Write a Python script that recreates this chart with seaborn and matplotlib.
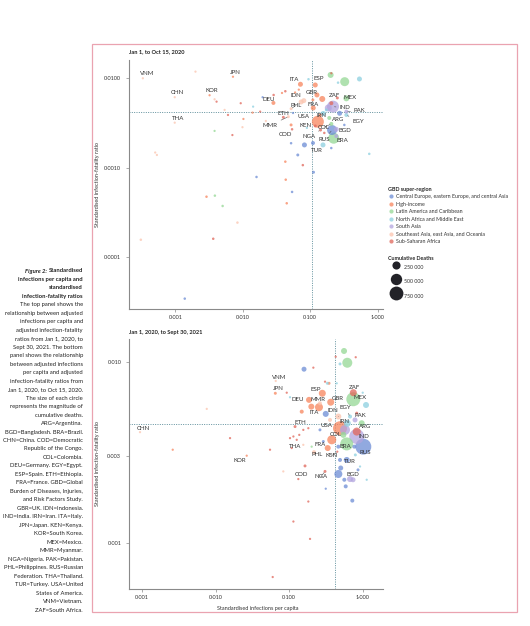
import numpy as np
import pandas as pd
import matplotlib
matplotlib.use("Agg")
import matplotlib.pyplot as plt
import seaborn as sns
from matplotlib.lines import Line2D
from matplotlib.patches import Rectangle

sns.set_theme(style="ticks")
plt.rcParams["font.family"] = ["Lato", "DejaVu Sans"]

# ---- data -----------------------------------------------------------------
REGION_NAMES = {
    "CE": "Central Europe, eastern Europe, and central Asia",
    "HI": "High-income",
    "LA": "Latin America and Caribbean",
    "NA": "North Africa and Middle East",
    "SA": "South Asia",
    "SE": "Southeast Asia, east Asia, and Oceania",
    "SS": "Sub-Saharan Africa",
}
PALETTE = {
    "CE": "#6c8cd5", "HI": "#f7845c", "LA": "#95d895", "NA": "#8cd0e0",
    "SA": "#b2a4de", "SE": "#fbc4ae", "SS": "#e0665a",
}

# top panel: Jan 1 to Oct 15, 2020 (labelled countries)
top_codes = ["VNM", "JPN", "CHN", "KOR", "THA", "ITA", "ESP", "GBR", "IDN", "DEU",
             "ZAF", "MEX", "FRA", "PHL", "IND", "PAK", "ETH", "USA", "IRN", "ARG",
             "EGY", "MMR", "KEN", "COL", "COD", "BGD", "NGA", "RUS", "BRA", "TUR"]
top_region = ["SE", "HI", "SE", "HI", "SE", "HI", "HI", "HI", "SE", "HI",
              "SS", "LA", "HI", "SE", "SA", "SA", "SS", "HI", "NA", "LA",
              "NA", "SE", "SS", "LA", "SS", "SA", "SS", "CE", "LA", "CE"]
top_inf = [0.00033, 0.00716, 0.00098, 0.00322, 0.00098, 0.0717, 0.119, 0.126, 0.0805, 0.0285,
           0.206, 0.344, 0.111, 0.0521, 0.218, 0.344, 0.040, 0.130, 0.156, 0.192,
           0.344, 0.0474, 0.119, 0.206, 0.0539, 0.244, 0.1425, 0.211, 0.223, 0.110]
top_ifr = [0.0100, 0.0104, 0.00614, 0.00646, 0.00319, 0.00857, 0.00841, 0.00651, 0.00562, 0.0053,
           0.00526, 0.00597, 0.00466, 0.00457, 0.00482, 0.00424, 0.00366, 0.00327, 0.00404, 0.0036,
           0.00389, 0.00372, 0.00293, 0.00309, 0.00269, 0.00269, 0.00264, 0.00264, 0.00214, 0.00189]
top_deaths = [5, 5, 5, 5, 5, 84, 84, 84, 84, 48,
              48, 128, 84, 20, 558, 48, 20, 558, 84, 48,
              48, 20, 20, 48, 10, 84, 20, 383, 467, 48]  # thousands

# top panel: other locations
top_oth_region = ["SE", "LA", "LA", "NA", "SS", "NA", "NA", "SS", "SS", "HI",
                  "HI", "CE", "SE", "SS", "SE", "SS", "NA", "SS", "HI", "HI",
                  "SS", "HI", "SE", "LA", "SS", "SE", "SE", "CE", "CE", "CE",
                  "NA", "CE", "NA", "SS", "HI", "CE", "CE", "HI", "CE", "HI",
                  "LA", "LA", "HI", "SE", "SE", "SS", "CE", "CE", "SA", "NA",
                  "HI", "SE", "HI", "HI", "HI", "SE", "SS", "NA", "CE", "SA",
                  "CE", "SS"]
top_oth_inf = [0.00199, 0.201, 0.325, 0.538, 0.206, 0.0944, 0.259, 0.0428, 0.0287, 0.0382,
               0.0597, 0.0197, 0.00382, 0.00409, 0.00538, 0.00933, 0.01425, 0.01812, 0.01396, 0.01023,
               0.00604, 0.0521, 0.0099, 0.00382, 0.00702, 0.000503, 0.000533, 0.0521, 0.0822, 0.0655,
               0.155, 0.2056, 0.752, 0.0778, 0.0428, 0.016, 0.112, 0.0434, 0.0539, 0.0029,
               0.00386, 0.00503, 0.0449, 0.00834, 0.000308, 0.00365, 0.00138, 0.2735, 0.1857, 0.1734,
               0.141, 0.0734, 0.1097, 0.151, 0.0678, 0.022, 0.162, 0.0893, 0.321, 0.244,
               0.0557, 0.253]
top_oth_ifr = [0.01186, 0.01089, 0.00916, 0.00982, 0.01138, 0.00975, 0.00893, 0.00716, 0.0065, 0.00685,
               0.00694, 0.00614, 0.00582, 0.00548, 0.00443, 0.00526, 0.00482, 0.00424, 0.00413, 0.00351,
               0.00389, 0.00301, 0.00284, 0.00258, 0.00232, 0.00148, 0.00139, 0.00188, 0.0018, 0.00139,
               0.0018, 0.00166, 0.00143, 0.00107, 0.00117, 0.000789, 0.000891, 0.000736, 0.000537, 0.000475,
               0.000488, 0.000374, 0.000401, 0.000244, 0.000157, 0.000161, 0.0000345, 0.00406, 0.00466, 0.00443,
               0.00389, 0.00543, 0.00573, 0.00587, 0.00746, 0.00333, 0.00245, 0.00279, 0.00301, 0.00226,
               0.00409, 0.00603]
top_oth_deaths = [5, 128, 308, 84, 5, 10, 10, 10, 10, 5,
                  5, 5, 5, 5, 5, 5, 5, 5, 5, 5,
                  5, 20, 5, 5, 5, 5, 5, 10, 84, 20,
                  84, 10, 10, 10, 10, 10, 20, 10, 10, 10,
                  10, 10, 10, 10, 10, 10, 10, 84, 180, 20,
                  20, 84, 20, 128, 5, 5, 10, 5, 10, 48,
                  5, 20]

# bottom panel: Jan 1, 2020 to Sept 30, 2021 (labelled countries)
bot_codes = ["VNM", "JPN", "ESP", "DEU", "MMR", "GBR", "ZAF", "MEX", "EGY", "ITA",
             "IDN", "PAK", "ETH", "IRN", "USA", "ARG", "COL", "IND", "THA", "FRA",
             "BRA", "RUS", "PHL", "KEN", "TUR", "KOR", "CHN", "COD", "NGA", "BGD"]
bot_region = ["SE", "HI", "HI", "HI", "SE", "HI", "SS", "LA", "NA", "HI",
              "SE", "SA", "SS", "NA", "HI", "LA", "LA", "SA", "SE", "HI",
              "LA", "CE", "SE", "SS", "CE", "HI", "SE", "SS", "SS", "SA"]
bot_inf = [0.0655, 0.0647, 0.282, 0.186, 0.262, 0.367, 0.745, 0.745, 0.672, 0.254,
           0.466, 0.786, 0.120, 0.617, 0.491, 0.969, 0.545, 0.829, 0.1555, 0.334,
           0.606, 1.019, 0.2175, 0.451, 0.606, 0.0264, 0.000933, 0.133, 0.307, 0.672]
bot_ifr = [0.00785, 0.00671, 0.00671, 0.00617, 0.00591, 0.00599, 0.00676, 0.00622, 0.00499, 0.00562,
           0.00499, 0.00478, 0.00439, 0.00458, 0.0043, 0.00458, 0.00395, 0.00387, 0.00348, 0.00334,
           0.00352, 0.0034, 0.00317, 0.00319, 0.00287, 0.00303, 0.00409, 0.00225, 0.00248, 0.00225]
bot_deaths = [5, 20, 180, 128, 48, 180, 180, 765, 48, 240,
              128, 84, 20, 180, 765, 128, 128, 881, 5, 128,
              658, 1136, 48, 5, 128, 5, 5, 5, 20, 128]

# bottom panel: other locations
bot_oth_region = ["LA", "LA", "SS", "SS", "NA", "CE", "SS", "SS", "HI", "NA",
                  "NA", "NA", "NA", "SS", "SE", "HI", "CE", "SE", "SS", "CE",
                  "SS", "SS", "SS", "SS", "SS", "SS", "SS", "SS", "HI", "SS",
                  "LA", "CE", "HI", "CE", "CE", "SS", "SS", "SE", "CE", "CE",
                  "CE", "CE", "CE", "CE", "CE", "NA", "NA", "SS", "SS", "SS",
                  "SS", "NA", "CE", "SA", "HI", "NA", "SA"]
bot_oth_inf = [0.557, 0.617, 0.803, 0.429, 0.491, 0.159, 0.213, 0.307, 0.348, 0.443,
               1.0, 1.109, 0.1025, 0.0925, 0.00755, 0.148, 0.314, 0.359, 0.829, 0.262,
               0.182, 0.1555, 0.137, 0.114, 0.1025, 0.108, 0.1265, 0.01566, 0.0026, 0.0548,
               0.202, 0.291, 0.379, 0.466, 0.769, 0.829, 0.164, 0.0831, 0.491, 0.502,
               0.466, 0.562, 0.587, 0.722, 0.314, 0.919, 1.133, 0.182, 0.114, 0.192,
               0.0596, 0.794, 0.863, 0.738, 0.2, 0.33, 0.574]
bot_oth_ifr = [0.0115, 0.0099, 0.01062, 0.01069, 0.00975, 0.00912, 0.0093, 0.00778, 0.00762, 0.00762,
               0.00676, 0.00578, 0.00638, 0.00676, 0.0055, 0.00531, 0.00516, 0.00478, 0.00521, 0.00421,
               0.0043, 0.00421, 0.00395, 0.00387, 0.00379, 0.00334, 0.00371, 0.00379, 0.00327, 0.00327,
               0.0034, 0.00363, 0.00371, 0.0034, 0.0034, 0.00412, 0.00266, 0.00248, 0.00287, 0.00259,
               0.0024, 0.00223, 0.00205, 0.00171, 0.00199, 0.00264, 0.00223, 0.00169, 0.00131, 0.00105,
               0.000646, 0.00306, 0.00253, 0.00223, 0.00566, 0.00762, 0.00421]
bot_oth_deaths = [128, 383, 5, 5, 20, 84, 5, 5, 20, 5,
                  5, 128, 5, 5, 5, 48, 128, 48, 20, 20,
                  5, 5, 5, 5, 5, 5, 5, 5, 5, 5,
                  5, 20, 308, 48, 48, 240, 20, 5, 48, 84,
                  240, 48, 48, 48, 5, 5, 5, 5, 5, 5,
                  5, 20, 20, 84, 128, 20, 383]

top_ref = (0.107, 0.00424)   # dotted reference lines (x, y)
bot_ref = (0.42, 0.00456)

# label offsets in points (dx, dy) and labels that get a leader line
top_offsets = {"VNM": (2.9, 3.3), "JPN": (1.4, 3.2), "CHN": (2.2, 3.3), "KOR": (1.9, 3.1),
               "THA": (2.2, 2.9), "ITA": (-4.8, 3.3), "ESP": (2.7, 4.5), "GBR": (-3.6, 1.6),
               "IDN": (-5.8, 3.4), "DEU": (-3.7, 2.7), "ZAF": (2.2, 5.8), "MEX": (2.9, 0.3),
               "FRA": (0, 2.7), "PHL": (3.6, 2.4), "IND": (8.4, -0.9), "PAK": (9.6, 0.5),
               "ETH": (0, 3), "USA": (-10.1, 3.6), "IRN": (-1.4, -1.8), "ARG": (6.7, -0.9),
               "EGY": (8.4, -4.5), "MMR": (-13, -6.2), "KEN": (-6.7, 0.2), "COL": (-5.3, -2.4),
               "COD": (-4.8, -3.6), "BGD": (6, -1.2), "NGA": (-8.6, -4.8), "RUS": (-5.3, -6.5),
               "BRA": (6.5, -1.4), "TUR": (2.6, -5.5)}
top_leaders = {"PHL", "IND", "PAK", "EGY", "MMR", "NGA", "RUS", "COL"}
bot_offsets = {"VNM": (2.6, 2.7), "JPN": (2.2, 3.1), "ESP": (-4.8, 2.9), "DEU": (-8.4, 0),
               "MMR": (-1.7, 2.4), "GBR": (4.8, 2.9), "ZAF": (0.7, 3.9), "MEX": (4.8, 1.2),
               "EGY": (-3.6, 6.5), "ITA": (-3.6, -3.9), "IDN": (-3.6, 4.3), "PAK": (3.6, 3.4),
               "ETH": (3.6, 3.2), "IRN": (-1.7, 1.2), "USA": (-9.6, 1.9), "ARG": (2.4, -2.4),
               "COL": (-5.3, 0), "IND": (4.8, 0), "THA": (-5.8, -1.2), "FRA": (-5.5, 2.6),
               "BRA": (-1.2, -1.9), "RUS": (1.2, -4), "PHL": (2.4, -1.9), "KEN": (-4.3, -3.1),
               "TUR": (2.4, -1.4), "KOR": (-5.3, -3.8), "CHN": (2.4, 2.9), "COD": (2.4, 3.1),
               "NGA": (-3.1, -4), "BGD": (2.4, 3.3)}
bot_leaders = {"EGY", "IDN", "KEN", "NGA"}

caption_bold = ["infections per capita and", "standardised", "infection-fatality ratios"]
caption_body = [
    "The top panel shows the", "relationship between adjusted", "infections per capita and",
    "adjusted infection-fatality", "ratios from Jan 1, 2020, to", "Sept 30, 2021. The bottom",
    "panel shows the relationship", "between adjusted infections", "per capita and adjusted",
    "infection-fatality ratios from", "Jan 1, 2020, to Oct 15, 2020.", "The size of each circle",
    "represents the magnitude of", "cumulative deaths.", "ARG=Argentina.",
    "BGD=Bangladesh. BRA=Brazil.", "CHN=China. COD=Democratic", "Republic of the Congo.",
    "COL=Colombia.", "DEU=Germany. EGY=Egypt.", "ESP=Spain. ETH=Ethiopia.",
    "FRA=France. GBD=Global", "Burden of Diseases, Injuries,", "and Risk Factors Study.",
    "GBR=UK. IDN=Indonesia.", "IND=India. IRN=Iran. ITA=Italy.", "JPN=Japan. KEN=Kenya.",
    "KOR=South Korea.", "MEX=Mexico.", "MMR=Myanmar.", "NGA=Nigeria. PAK=Pakistan.",
    "PHL=Philippines. RUS=Russian", "Federation. THA=Thailand.", "TUR=Turkey. USA=United",
    "States of America.", "VNM=Vietnam.", "ZAF=South Africa.",
]

SIZES = (2, 132)
SIZE_NORM = (0, 1000)
FS = 4.0
INK = "#333333"


def make_frame(codes, region, inf, ifr, deaths, o_region, o_inf, o_ifr, o_deaths):
    lab = pd.DataFrame({"code": codes, "region": region, "inf": inf, "ifr": ifr, "deaths": deaths})
    oth = pd.DataFrame({"code": "", "region": o_region, "inf": o_inf, "ifr": o_ifr, "deaths": o_deaths})
    df = pd.concat([lab, oth], ignore_index=True)
    return df.sort_values("deaths", ascending=False)


def draw_panel(ax, df, ref, offsets, leaders, title, title_y, xlim, ylim, yticks, yticklabels):
    sns.scatterplot(data=df, x="inf", y="ifr", hue="region", hue_order=list(REGION_NAMES),
                    palette=PALETTE, size="deaths", sizes=SIZES, size_norm=SIZE_NORM,
                    alpha=0.75, linewidth=0, legend=False, ax=ax)
    ax.set_xscale("log")
    ax.set_yscale("log")
    ax.set_xlim(*xlim)
    ax.set_ylim(*ylim)
    ax.axvline(ref[0], color="#5f8f9c", lw=0.7, ls=(0, (1, 1.4)), zorder=0)
    ax.axhline(ref[1], color="#5f8f9c", lw=0.7, ls=(0, (1, 1.4)), zorder=0)
    for _, r in df[df.code != ""].iterrows():
        arrow = None
        if r.code in leaders:
            arrow = dict(arrowstyle="-", color="#555555", lw=0.4, shrinkA=0, shrinkB=1)
        ax.annotate(r.code, (r.inf, r.ifr), xytext=offsets[r.code], textcoords="offset points",
                    ha="center", va="center", fontsize=4.4, color=INK, arrowprops=arrow)
    ax.set_xticks([0.001, 0.01, 0.1, 1])
    ax.set_xticklabels(["0·001", "0·010", "0·100", "1·000"])
    ax.set_yticks(yticks)
    ax.set_yticklabels(yticklabels)
    ax.minorticks_off()
    sns.despine(ax=ax)
    for s in ("left", "bottom"):
        ax.spines[s].set_color("#8a8a8a")
        ax.spines[s].set_linewidth(0.8)
    ax.tick_params(axis="both", length=2.5, width=0.5, color="#8a8a8a", labelsize=FS,
                   labelcolor=INK)
    ax.tick_params(axis="y", pad=3)
    ax.tick_params(axis="x", pad=1.5)
    ax.set_xlabel("")
    ax.set_ylabel("Standardised infection-fatality ratio", fontsize=FS, color=INK)
    ax.yaxis.set_label_coords(-0.114, 0.5)
    ax.text(0, title_y, title, transform=ax.transAxes, ha="left", va="center",
            fontsize=4.1, weight="bold", color="#222222")


W, H = 530, 626
fig = plt.figure(figsize=(W / 100, H / 100), dpi=100)
ax_top = fig.add_axes([129 / W, 1 - 309 / H, 254 / W, 249 / H])
ax_bot = fig.add_axes([129 / W, 1 - 589 / H, 254 / W, 250 / H])

top_df = make_frame(top_codes, top_region, top_inf, top_ifr, top_deaths,
                    top_oth_region, top_oth_inf, top_oth_ifr, top_oth_deaths)
bot_df = make_frame(bot_codes, bot_region, bot_inf, bot_ifr, bot_deaths,
                    bot_oth_region, bot_oth_inf, bot_oth_ifr, bot_oth_deaths)

draw_panel(ax_top, top_df, top_ref, top_offsets, top_leaders, "Jan 1, to Oct 15, 2020", 1.032,
           (10 ** -3.687, 10 ** 0.08), (10 ** -4.578, 10 ** -1.796),
           [0.0001, 0.001, 0.01], ["0·0001", "0·0010", "0·0100"])
draw_panel(ax_bot, bot_df, bot_ref, bot_offsets, bot_leaders, "Jan 1, 2020, to Sept 30, 2021", 1.025,
           (10 ** -3.18, 10 ** 0.276), (10 ** -3.256, 10 ** -1.873),
           [0.001, 0.003, 0.01], ["0·001", "0·003", "0·010"])
ax_bot.set_xlabel("Standardised infections per capita", fontsize=FS, color=INK)
ax_bot.xaxis.set_label_coords(0.508, -0.067)

# legends
LEG_FS = 3.8
region_handles = [Line2D([0], [0], marker="o", ls="", markersize=3.0, markeredgewidth=0,
                         markerfacecolor=PALETTE[k], alpha=0.75) for k in REGION_NAMES]
fig.legend(region_handles, list(REGION_NAMES.values()), loc="upper left",
           bbox_to_anchor=(388.2 / W, 1 - 186.5 / H), bbox_transform=fig.transFigure,
           frameon=False, title="GBD super-region",
           title_fontproperties={"weight": "bold", "size": 3.9}, fontsize=LEG_FS,
           alignment="left", borderpad=0, borderaxespad=0, handlelength=0.95,
           handletextpad=0.5, labelspacing=0.48, labelcolor=INK)

legend_deaths = [250, 500, 750]
size_handles = [Line2D([0], [0], marker="o", ls="", markeredgewidth=0, markerfacecolor="#222228",
                       markersize=np.sqrt(SIZES[0] + (SIZES[1] - SIZES[0]) * d / SIZE_NORM[1]))
                for d in legend_deaths]
fig.legend(size_handles, [f"{d} 000" for d in legend_deaths], loc="upper left",
           bbox_to_anchor=(388.2 / W, 1 - 255.5 / H), bbox_transform=fig.transFigure,
           frameon=False, title="Cumulative Deaths",
           title_fontproperties={"weight": "bold", "size": 3.9}, fontsize=LEG_FS,
           alignment="left", borderpad=0, borderaxespad=0, handlelength=2.8,
           handletextpad=0.1, labelspacing=0, handleheight=3.8, labelcolor=INK)

# caption on the left
CAP_FS = 4.2
cx = 83 / W
pitch = 8.475
renderer = fig.canvas.get_renderer()
t0 = fig.text(cx, 1 - 271 / H, "Standardised", ha="right", va="center", fontsize=CAP_FS,
              weight="bold", color="#222222")
w0 = t0.get_window_extent(renderer).width / W
fig.text(cx - w0 - 1.5 / W, 1 - 271 / H, "Figure 2:", ha="right", va="center", fontsize=CAP_FS,
         weight="bold", style="italic", color="#222222")
for i, line in enumerate(caption_bold + caption_body, start=1):
    fig.text(cx, 1 - (271 + pitch * i) / H, line, ha="right", va="center", fontsize=CAP_FS,
             weight="bold" if i <= len(caption_bold) else "normal", color="#222222")

fig.add_artist(Rectangle((92 / W, 1 - 612 / H), 425 / W, 568 / H, transform=fig.transFigure,
                         fill=False, edgecolor="#eaa3b0", lw=0.9))

fig.savefig("out.png", dpi=100)
